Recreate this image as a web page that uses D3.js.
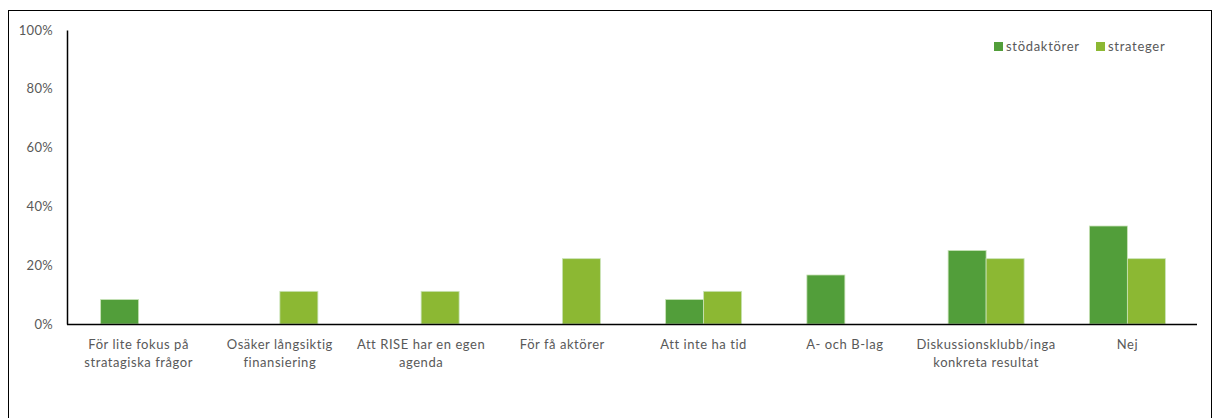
<!DOCTYPE html>
<html><head><meta charset="utf-8">
<script src="https://cdn.jsdelivr.net/npm/d3@7/dist/d3.min.js"></script>
<style>body{margin:0;background:#fff}svg{display:block;font-family:Lato,"Open Sans",sans-serif}</style>
</head><body><svg id="c" width="1213" height="418"></svg>
<script>
const categories = [["För lite fokus på","stratagiska frågor"],["Osäker långsiktig","finansiering"],["Att RISE har en egen","agenda"],["För få aktörer"],["Att inte ha tid"],["A- och B-lag"],["Diskussionsklubb/inga","konkreta resultat"],["Nej"]];
const seriesNames = ["stödaktörer","strateger"];
const stodaktorer = [8.33,0,0,0,8.33,16.67,25,33.33];
const strateger = [0,11.11,11.11,22.22,11.11,0,22.22,22.22];
const yTicks = [0,20,40,60,80,100];
const colors = ["#529E3A","#8CB833"];

(function(){
const svg = d3.select("#c");
svg.append("rect").attr("x",8.5).attr("y",10.5).attr("width",1203).attr("height",420).attr("fill","none").attr("stroke","#000").attr("stroke-width",1);

const mLeft=67, mRight=1197, mTop=30, mBottom=324;
const x = d3.scaleBand().domain(d3.range(categories.length)).range([mLeft,mRight]).paddingInner(0).paddingOuter(0);
const y = d3.scaleLinear().domain([0,100]).range([mBottom,mTop]);
const bw = 38;
const data = [stodaktorer,strateger];

data.forEach((vals,si)=>{
  svg.append("g").selectAll("rect").data(vals).join("rect")
    .attr("x",(d,i)=>x(i)+x.bandwidth()/2 - bw + si*bw + 1)
    .attr("y",d=>y(d))
    .attr("width",bw)
    .attr("height",d=>mBottom-y(d))
    .attr("fill",colors[si])
    .attr("stroke",d=>d>0?"#c9e3b8":"none").attr("stroke-width",0.8);
});

const ya = svg.append("g").attr("transform",`translate(${mLeft},0)`).call(d3.axisLeft(y).tickValues(yTicks).tickFormat(d=>d+"%").tickSize(0).tickPadding(14));
ya.select(".domain").attr("stroke","#000").attr("stroke-width",1.5);
ya.selectAll("text").attr("font-size",13).attr("fill","#595959").attr("font-family","Lato,sans-serif").attr("letter-spacing",0.3);

svg.append("line").attr("x1",mLeft).attr("x2",mRight).attr("y1",mBottom+0.5).attr("y2",mBottom+0.5).attr("stroke","#000").attr("stroke-width",1.5);
const xl = svg.append("g");
categories.forEach((lines,i)=>{
  const cx = x(i)+x.bandwidth()/2 + 1;
  const t = xl.append("text").attr("x",cx).attr("y",349).attr("text-anchor","middle").attr("font-size",13).attr("letter-spacing",0.55).attr("fill","#595959");
  lines.forEach((l,j)=>t.append("tspan").attr("x",cx).attr("dy",j?18:0).text(l));
});

const lg = [[994,1006],[1096,1108]];
seriesNames.forEach((n,i)=>{
  svg.append("rect").attr("x",lg[i][0]).attr("y",42).attr("width",9).attr("height",9).attr("fill",colors[i]);
  svg.append("text").attr("x",lg[i][1]).attr("y",51).attr("font-size",13).attr("letter-spacing",0.7).attr("fill","#595959").text(n);
});
})();
</script></body></html>
